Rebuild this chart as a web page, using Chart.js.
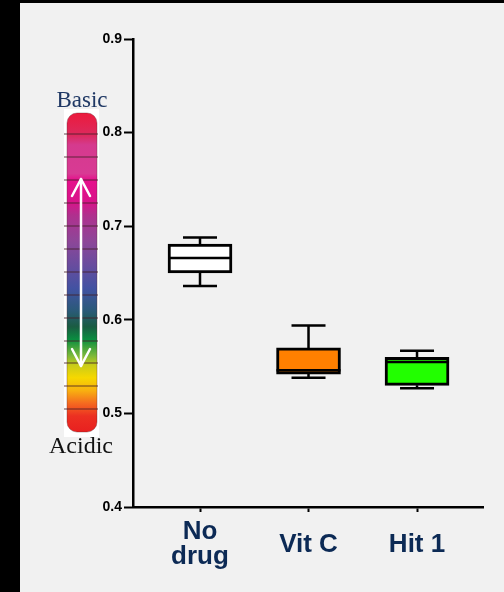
<!DOCTYPE html>
<html>
<head>
<meta charset="utf-8">
<script src="https://cdn.jsdelivr.net/npm/chart.js@4"></script>
<style>
html,body{margin:0;padding:0;background:#000;}
#wrap{position:relative;width:504px;height:592px;}
</style>
</head>
<body>
<div id="wrap"><canvas id="c" width="504" height="592"></canvas></div>
<script>
// ---- data ----
const categories = [['No', 'drug'], 'Vit C', 'Hit 1'];
const whiskerLow  = [0.636, 0.538, 0.527];
const quartile1   = [0.650, 0.542, 0.530];
const medians     = [0.666, 0.546, 0.555];
const quartile3   = [0.681, 0.570, 0.560];
const whiskerHigh = [0.688, 0.594, 0.567];
const yTickValues = [0.4, 0.5, 0.6, 0.7, 0.8, 0.9];
const boxColors   = ['#ffffff', '#ff8000', '#22ff00'];

const boxData = categories.map((c, i) => ({ x: i, y: [quartile1[i], quartile3[i]] }));

const bgPlugin = {
  id: 'bg',
  beforeDraw(chart) {
    const ctx = chart.ctx;
    ctx.save();
    ctx.fillStyle = '#000';
    ctx.fillRect(0, 0, chart.width, chart.height);
    ctx.fillStyle = '#f1f1f1';
    ctx.fillRect(20, 3, chart.width - 20, chart.height - 3);

    // pH scale decoration
    ctx.fillStyle = '#ffffff';
    ctx.fillRect(64, 109, 35, 328);
    const x0 = 67, y0 = 113, w = 30, h = 319, r = 10;
    const g = ctx.createLinearGradient(0, y0, 0, y0 + h);
    const stops = [
      [0.00, '#ec1a3c'], [0.07, '#dc2a5e'], [0.10, '#d53a8e'], [0.19, '#d83a94'],
      [0.21, '#e6108c'], [0.28, '#d8148a'], [0.32, '#b0308e'], [0.40, '#8e4698'],
      [0.47, '#6c4c9e'], [0.55, '#4252a2'], [0.62, '#2a5a78'], [0.67, '#1a5c42'],
      [0.71, '#0a8e40'], [0.76, '#7ab83a'], [0.79, '#c8cc1a'], [0.83, '#f6d800'],
      [0.87, '#f8b010'], [0.91, '#f46a20'], [0.95, '#ec3022'], [1.00, '#e82020']
    ];
    stops.forEach(s => g.addColorStop(s[0], s[1]));
    ctx.beginPath();
    ctx.roundRect(x0, y0, w, h, r);
    ctx.fillStyle = g;
    ctx.fill();
    ctx.strokeStyle = 'rgba(90,40,50,0.35)';
    ctx.lineWidth = 1;
    ctx.stroke();
    ctx.strokeStyle = 'rgba(70,30,40,0.55)';
    ctx.lineWidth = 1.5;
    [134, 157, 180, 203, 226, 249, 272, 295, 318, 341, 363, 386, 409].forEach(yy => {
      ctx.beginPath(); ctx.moveTo(64, yy); ctx.lineTo(98, yy); ctx.stroke();
    });
    // double arrow
    ctx.strokeStyle = '#ffffff';
    ctx.lineWidth = 2.5;
    ctx.lineCap = 'round';
    ctx.lineJoin = 'round';
    ctx.beginPath(); ctx.moveTo(81, 179); ctx.lineTo(81, 366); ctx.stroke();
    ctx.beginPath(); ctx.moveTo(72, 196); ctx.lineTo(81, 179); ctx.lineTo(90, 196); ctx.stroke();
    ctx.beginPath(); ctx.moveTo(72, 349); ctx.lineTo(81, 366); ctx.lineTo(90, 349); ctx.stroke();

    ctx.textAlign = 'center';
    ctx.textBaseline = 'alphabetic';
    ctx.font = '23px "Liberation Serif", "DejaVu Serif", serif';
    ctx.fillStyle = '#1f3864';
    ctx.fillText('Basic', 82, 107);
    ctx.font = '24px "Liberation Serif", "DejaVu Serif", serif';
    ctx.fillStyle = '#111111';
    ctx.fillText('Acidic', 81, 453);
    ctx.restore();
  }
};

const whiskerPlugin = {
  id: 'whiskers',
  afterDatasetsDraw(chart) {
    const ctx = chart.ctx;
    const xs = chart.scales.x, ys = chart.scales.y;
    const capHalf = 17, boxHalf = 32;
    ctx.save();
    ctx.strokeStyle = '#000';
    ctx.lineCap = 'butt';
    categories.forEach((c, i) => {
      const cx = xs.getPixelForValue(i);
      const pLo = ys.getPixelForValue(whiskerLow[i]);
      const pQ1 = ys.getPixelForValue(quartile1[i]);
      const pQ3 = ys.getPixelForValue(quartile3[i]);
      const pHi = ys.getPixelForValue(whiskerHigh[i]);
      const pMed = ys.getPixelForValue(medians[i]);
      ctx.lineWidth = 2.5;
      ctx.beginPath();
      ctx.moveTo(cx, pQ3); ctx.lineTo(cx, pHi);
      ctx.moveTo(cx, pQ1); ctx.lineTo(cx, pLo);
      ctx.stroke();
      ctx.beginPath();
      ctx.moveTo(cx - capHalf, pHi); ctx.lineTo(cx + capHalf, pHi);
      ctx.moveTo(cx - capHalf, pLo); ctx.lineTo(cx + capHalf, pLo);
      ctx.stroke();
      ctx.beginPath();
      ctx.moveTo(cx - boxHalf, pMed); ctx.lineTo(cx + boxHalf, pMed);
      ctx.stroke();
    });
    ctx.restore();
  }
};

new Chart(document.getElementById('c'), {
  type: 'bar',
  data: {
    datasets: [{
      data: boxData,
      backgroundColor: boxColors,
      borderColor: '#000',
      borderWidth: 3,
      borderSkipped: false,
      barThickness: 64
    }]
  },
  options: {
    responsive: false,
    animation: false,
    events: [],
    layout: { padding: { left: 0, right: 21, top: 39, bottom: 0 } },
    plugins: { legend: { display: false }, tooltip: { enabled: false } },
    scales: {
      x: {
        type: 'linear',
        offset: false,
        min: -0.6175,
        max: 2.608,
        afterBuildTicks(scale) { scale.ticks = categories.map((c, i) => ({ value: i })); },
        afterFit(scale) { scale.height = 85; },
        grid: { offset: false, drawOnChartArea: false, tickLength: 5, tickColor: '#000', tickWidth: 2 },
        border: { color: '#000', width: 2.5 },
        ticks: {
          autoSkip: false,
          maxRotation: 0,
          crossAlign: 'center',
          padding: 20,
          color: '#0c2a55',
          font: { family: '"Liberation Sans", Arial, sans-serif', size: 26, weight: 'bold', lineHeight: 0.97 },
          callback: (v) => categories[v]
        }
      },
      y: {
        min: 0.4,
        max: 0.9,
        afterBuildTicks(scale) { scale.ticks = yTickValues.map(v => ({ value: v })); },
        afterFit(scale) { scale.width = 133; },
        grid: { drawOnChartArea: false, tickLength: 9, tickColor: '#000', tickWidth: 2 },
        border: { color: '#000', width: 2.5 },
        ticks: {
          padding: 2,
          color: '#000',
          font: { family: '"Liberation Sans", Arial, sans-serif', size: 14, weight: 'bold' },
          callback: (v) => v.toFixed(1)
        }
      }
    }
  },
  plugins: [bgPlugin, whiskerPlugin]
});
</script>
</body>
</html>
